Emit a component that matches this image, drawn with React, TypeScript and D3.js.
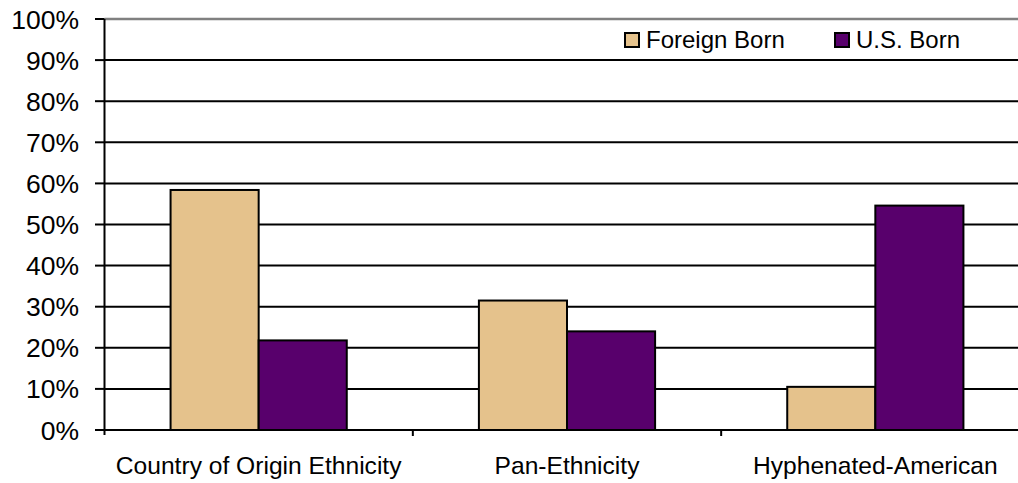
import React from "react";
import * as d3 from "d3";

const categories = ["Country of Origin Ethnicity", "Pan-Ethnicity", "Hyphenated-American"];
const seriesNames = ["Foreign Born", "U.S. Born"];
const foreignBorn = [0.584, 0.315, 0.105];
const usBorn = [0.218, 0.24, 0.546];
const yTicks = [0, 0.1, 0.2, 0.3, 0.4, 0.5, 0.6, 0.7, 0.8, 0.9, 1.0];
const seriesColors = ["#E5C28C", "#58006C"];

const W = 1018;
const H = 483;
const FONT = "Liberation Sans, Arial, Helvetica, sans-serif";

export default function App() {
  const x0 = d3.scaleBand<string>().domain(categories).range([104.5, 1029.5]).paddingInner(0).paddingOuter(0);
  const x1 = d3.scaleBand<string>().domain(seriesNames).range([0, x0.bandwidth()]).paddingInner(0).paddingOuter(0.75);
  const y = d3.scaleLinear().domain([0, 1]).range([430, 19]);
  const fmt = d3.format(".0%");
  const values = [foreignBorn, usBorn];
  const right = x0.range()[1];

  return (
    <svg width={W} height={H} style={{ position: "absolute", left: 0, top: 0, background: "#fff" }}>
      {/* horizontal gridlines */}
      {yTicks.filter((t) => t > 0 && t < 1).map((t) => (
        <line key={t} x1={x0.range()[0]} x2={right} y1={y(t)} y2={y(t)} stroke="#000" strokeWidth={2} />
      ))}
      {/* plot border (top) */}
      <line x1={x0.range()[0]} x2={right} y1={y(1)} y2={y(1)} stroke="#808080" strokeWidth={2.5} />

      {/* bars */}
      {categories.map((c, i) => (
        <g key={c} transform={`translate(${x0(c)},0)`}>
          {seriesNames.map((s, j) => (
            <rect
              key={s}
              x={x1(s)}
              y={y(values[j][i])}
              width={x1.bandwidth()}
              height={y(0) - y(values[j][i])}
              fill={seriesColors[j]}
              stroke="#000"
              strokeWidth={2}
            />
          ))}
        </g>
      ))}

      {/* y axis */}
      <line x1={104.5} x2={104.5} y1={y(1)} y2={y(0) + 5} stroke="#000" strokeWidth={2} />
      {yTicks.map((t) => (
        <g key={t}>
          <line x1={95} x2={104.5} y1={y(t)} y2={y(t)} stroke="#000" strokeWidth={2} />
          <text x={79} y={y(t)} dy="0.36em" textAnchor="end" fontFamily={FONT} fontSize={26.5} fill="#000">
            {fmt(t)}
          </text>
        </g>
      ))}

      {/* x axis */}
      <line x1={104.5} x2={right} y1={y(0)} y2={y(0)} stroke="#000" strokeWidth={2} />
      {categories.map((c, i) => (
        <g key={c}>
          {i > 0 && <line x1={x0(c)} x2={x0(c)} y1={y(0)} y2={y(0) + 6} stroke="#000" strokeWidth={2} />}
          <text x={(x0(c) as number) + x0.bandwidth() / 2} y={474} textAnchor="middle" fontFamily={FONT} fontSize={24.6} fill="#000">
            {c}
          </text>
        </g>
      ))}

      {/* legend */}
      {seriesNames.map((s, j) => {
        const lx = [625, 835][j];
        return (
          <g key={s}>
            <rect x={lx} y={33} width={14} height={14} fill={seriesColors[j]} stroke="#000" strokeWidth={2} />
            <text x={lx + 21} y={47.5} fontFamily={FONT} fontSize={24} fill="#000">
              {s}
            </text>
          </g>
        );
      })}
    </svg>
  );
}
